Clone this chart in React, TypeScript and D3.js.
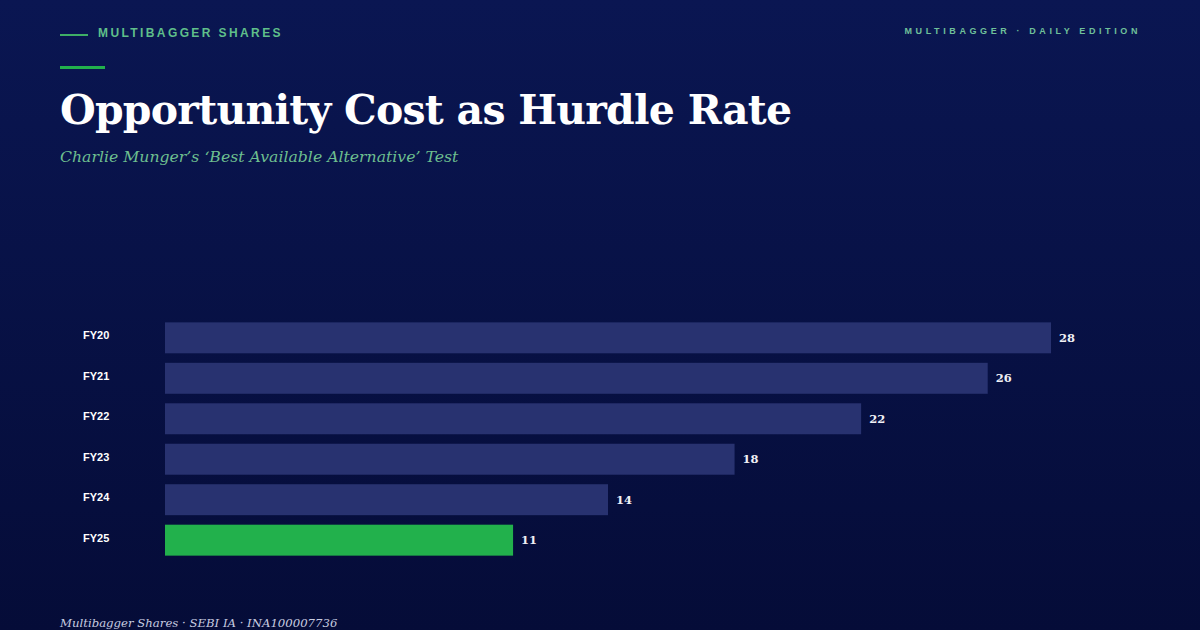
import React from "react";
import * as d3 from "d3";

const categories = ["FY20", "FY21", "FY22", "FY23", "FY24", "FY25"];
const values = [28, 26, 22, 18, 14, 11];
const highlight = "FY25";

const W = 1200;
const H = 630;
const serif = "Georgia, 'DejaVu Serif', 'Liberation Serif', serif";
const sans = "'Liberation Sans', Arial, Helvetica, sans-serif";

export default function App() {
  const x = d3.scaleLinear().domain([0, 28]).range([165, 1051]);
  const y = d3.scaleBand<string>().domain(categories).range([317.5, 560.5]).paddingInner(0.235).paddingOuter(0.12);

  return (
    <div style={{ position: "fixed", left: 0, top: 0, width: W, height: H }}>
      <svg width={W} height={H} viewBox={`0 0 ${W} ${H}`} style={{ display: "block" }}>
        <defs>
          <linearGradient id="bg" x1="0" y1="0" x2="0" y2="1">
            <stop offset="0" stopColor="#0a1652" />
            <stop offset="1" stopColor="#050c38" />
          </linearGradient>
        </defs>
        <rect x={0} y={0} width={W} height={H} fill="url(#bg)" />

        <line x1={60} x2={88} y1={35} y2={35} stroke="#3fae66" strokeWidth={2} />
        <text x={98} y={37} fill="#5fbf8a" fontFamily={sans} fontWeight={700} fontSize={12} letterSpacing={2.4}>
          MULTIBAGGER SHARES
        </text>
        <text x={1141} y={34} textAnchor="end" fill="#6fc09a" fontFamily={sans} fontWeight={700} fontSize={9} letterSpacing={3.6}>
          MULTIBAGGER · DAILY EDITION
        </text>

        <rect x={60} y={66} width={45} height={3} fill="#22b14c" />
        <text x={60} y={124} fill="#ffffff" fontFamily={serif} fontWeight={700} fontSize={41} textLength={732} lengthAdjust="spacing">
          Opportunity Cost as Hurdle Rate
        </text>
        <text x={60} y={162} fill="#6dbf8f" fontFamily={serif} fontStyle="italic" fontSize={15.7}>
          Charlie Munger’s ‘Best Available Alternative’ Test
        </text>

        {categories.map((c, i) => {
          const yy = y(c)!;
          const bh = y.bandwidth();
          const v = values[i];
          return (
            <g key={c}>
              <text x={83} y={yy + bh / 2 + 1.5} fill="#ffffff" fontFamily={sans} fontWeight={700} fontSize={11}>
                {c}
              </text>
              <rect x={x(0)} y={yy} width={x(v) - x(0)} height={bh} fill={c === highlight ? "#22b14c" : "#283270"} />
              <text x={x(v) + 8} y={yy + bh / 2 + 4} fill="#f0f0f5" fontFamily={serif} fontWeight={700} fontSize={11.5}>
                {v}
              </text>
            </g>
          );
        })}

        <text x={60} y={627} fill="#c8cce0" fontFamily={serif} fontStyle="italic" fontSize={11.7}>
          Multibagger Shares · SEBI IA · INA100007736
        </text>
      </svg>
    </div>
  );
}
